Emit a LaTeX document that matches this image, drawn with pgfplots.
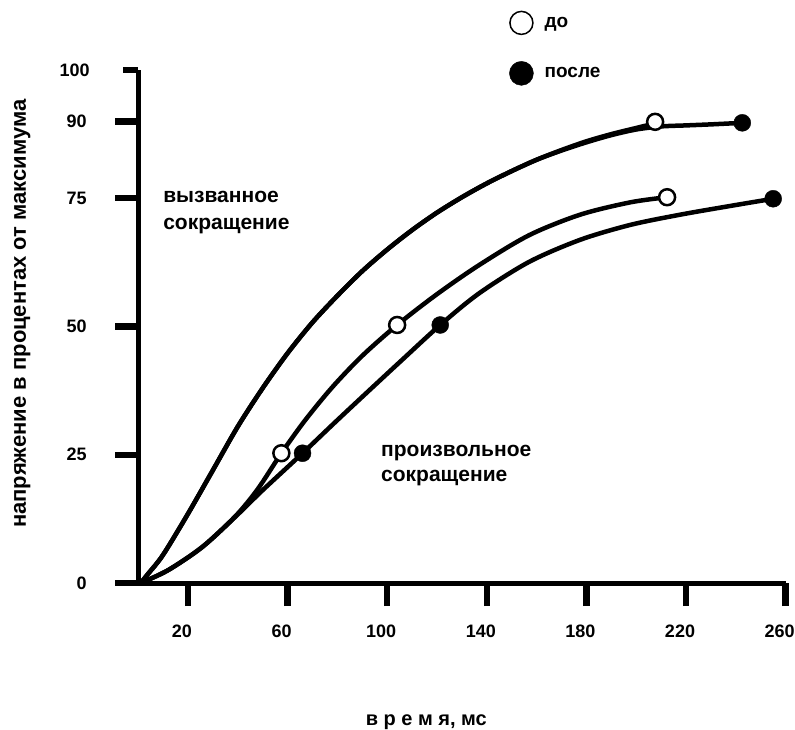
\documentclass[border=0pt]{standalone}
\usepackage{fontspec}
\setmainfont{Liberation Sans}
\usepackage{pgfplots}
\pgfplotsset{compat=1.18}
\begin{document}
\begin{tikzpicture}
\useasboundingbox (0pt,0pt) rectangle (795pt,729pt);
\begin{axis}[
  at={(138.2pt,146pt)}, anchor=south west,
  x=2.49pt, y=5.13pt,
  xmin=0, xmax=260, ymin=0, ymax=100,
  axis lines=left,
  axis line style={line width=5pt, -},
  xtick={20,60,100,140,180,220,260},
  ytick={0,25,50,75,90},
  extra y ticks={100},
  extra y tick style={major tick length=15pt, yticklabel style={xshift=-5pt}},
  tick align=outside,
  major tick length=23pt,
  tick style={line width=6.5pt, black},
  minor tick num=0,
  /pgf/number format/assume math mode=true,
  ticklabel style={font=\fontsize{18}{20}\selectfont\bfseries},
  xticklabel style={yshift=-15pt, xshift=-6pt},
  yticklabel style={xshift=-25pt},
  xlabel={в р е м я, мс},
  xlabel style={at={(axis description cs:0.445,-0.271)}, anchor=center, font=\fontsize{20}{22}\selectfont\bfseries},
  ylabel={напряжение в процентах от максимума},
  ylabel style={at={(axis description cs:-0.179,0.525)}, anchor=center, font=\fontsize{22}{24}\selectfont\bfseries},
  clip=false,
  legend style={at={(axis cs:147.7,112)}, anchor=north west, draw=none, fill=none,
    row sep=26pt, font=\fontsize{19}{22}\selectfont\bfseries, cells={anchor=west}},
  legend cell align=left,
]
% evoked contraction, before
\addplot[line width=4.5pt, smooth, tension=0.5, line join=round, forget plot] coordinates {
 (1,0) (4,1.8) (10,5.5) (20,13.5) (30,22) (40,30.5) (50,38) (60,44.8) (70,50.8) (80,56)
 (90,60.8) (100,65) (110,68.8) (120,72.2) (130,75.2) (140,77.9) (150,80.3) (160,82.5)
 (170,84.4) (180,86.1) (190,87.5) (200,88.7) (207.6,89.6)};
% evoked contraction, after
\addplot[line width=4.5pt, smooth, tension=0.5, line join=round, forget plot] coordinates {
 (1,0) (4,1.8) (10,5.5) (20,13.5) (30,22) (40,30.5) (50,38) (60,44.8) (70,50.8) (80,56)
 (90,60.8) (100,65) (110,68.8) (120,72.2) (130,75.2) (140,77.9) (150,80.3) (160,82.5)
 (170,84.3) (180,85.9) (190,87.3) (200,88.4) (210,89.0) (220,89.2) (230,89.4) (242.6,89.7)};
% voluntary contraction, before
\addplot[line width=4.5pt, smooth, tension=0.5, line join=round, forget plot] coordinates {
 (1,0) (12,2.5) (25.7,7) (39,13) (48,18.3) (57.5,25.3) (67,31.7) (78,38.2) (90,44.3) (104,50.3)
 (120,56.3) (137,62) (157,67.8) (177.5,71.8) (197.6,74.2) (212.4,75.2)};
% voluntary contraction, after
\addplot[line width=4.5pt, smooth, tension=0.5, line join=round, forget plot] coordinates {
 (1,0) (12,2.5) (25.7,7) (39,12.9) (50,18.1) (66,25.3) (79,31.3) (92,37.2) (106,43.5) (121.3,50.3)
 (137,56.5) (157,62.6) (177.5,66.9) (197.6,69.8) (217.7,71.8) (237.8,73.5) (255,74.9)};
% markers
\addplot[only marks, mark=*, mark size=8pt, mark options={fill=white, draw=black, line width=2.5pt},
  legend image code/.code={\draw[fill=white, draw=black, line width=1.5pt] (0pt,0pt) circle (11.5pt); \path (21pt,0pt);}]
  coordinates {(57.5,25.3) (104,50.3) (212.4,75.2) (207.6,89.9)};
\addlegendentry{до}
\addplot[only marks, mark=*, mark size=8.5pt, black,
  legend image code/.code={\fill[black] (0pt,0pt) circle (12pt); \path (21pt,0pt);}]
  coordinates {(66,25.3) (121.3,50.3) (255,74.9) (242.6,89.7)};
\addlegendentry{после}
\node[anchor=west, align=left, inner sep=0pt, font=\fontsize{21}{27}\selectfont\bfseries] at (axis cs:10,72.3) {вызванное\\сокращение};
\node[anchor=west, align=left, inner sep=0pt, font=\fontsize{21}{25}\selectfont\bfseries] at (axis cs:97.5,22.9) {произвольное\\сокращение};
\end{axis}
\end{tikzpicture}
\end{document}
